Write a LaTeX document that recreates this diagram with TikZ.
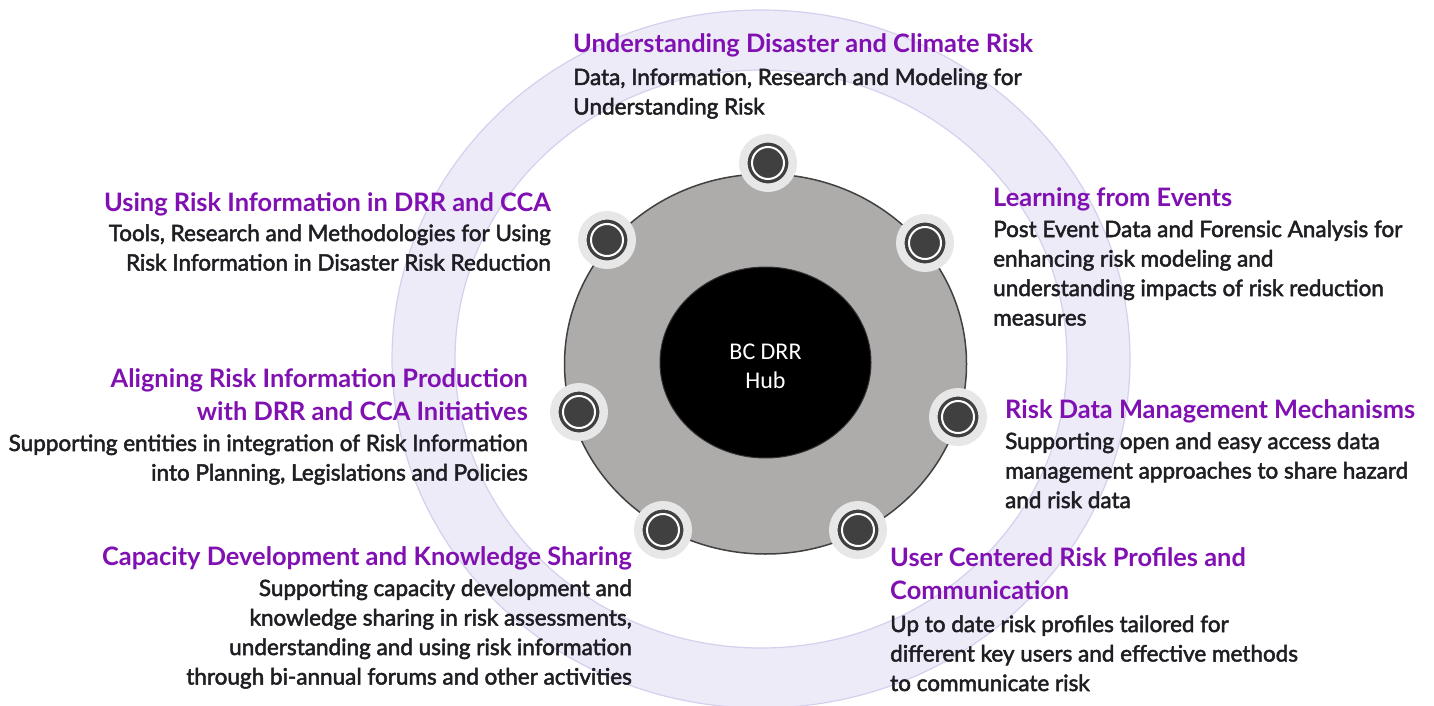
\documentclass[tikz,border=0pt]{standalone}
\usepackage{fontspec}
\setmainfont{Lato}
\newfontfamily\bodyfont{Lato}[RawFeature={embolden=2.2}]
\newfontfamily\hubfont{Carlito}
\usetikzlibrary{positioning,shapes.geometric}

\definecolor{hubpurple}{RGB}{128,16,178}
\definecolor{ringlav}{RGB}{237,235,248}
\definecolor{ringedge}{RGB}{212,208,238}
\definecolor{discgray}{RGB}{174,171,171}
\definecolor{dotdark}{RGB}{64,64,64}
\definecolor{dotlight}{RGB}{231,231,231}
\definecolor{textdark}{RGB}{30,30,35}

\tikzset{
  ttl/.style={font=\bfseries\fontsize{25.4}{32.5}\selectfont, text=hubpurple, inner sep=0pt},
  body/.style={font=\bodyfont\fontsize{22.5}{29.5}\selectfont, text=textdark, inner sep=0pt},
  dotout/.style={circle, fill=dotdark, draw=dotlight, line width=8.5pt, minimum size=49.5pt, inner sep=0pt},
}

\begin{document}
\begin{tikzpicture}[x=1pt,y=-1pt]
    \fill[white] (0,0) rectangle (1434,706);
    \useasboundingbox (0,0) rectangle (1434,706);

    % outer ring
    \fill[ringlav, even odd rule] (761,359) ellipse [x radius=369, y radius=349]
        (761,359) ellipse [x radius=306, y radius=289];
    \draw[ringedge, line width=1.2pt] (761,359) ellipse [x radius=369, y radius=349];
    \draw[ringedge, line width=1.2pt] (761,359) ellipse [x radius=306, y radius=289];

    % disc and hub
    \node[ellipse, fill=discgray, draw=dotdark, line width=1.5pt, minimum width=402pt, minimum height=380pt, inner sep=0pt] (disc) at (765.5,364) {};
    \node[ellipse, fill=black, draw=black!80, line width=1pt, minimum width=211pt, minimum height=191pt, inner sep=0pt] (hub) at (765.5,362.5) {};
    \node[align=center, text=white, font=\hubfont\fontsize{24}{29}\selectfont] (hubtxt) at (765.5,366) {BC DRR\\Hub};

    % markers
    \foreach \p [count=\i] in {(768,163),(925,243),(958,417),(858,530),(663,530),(579,412),(607,240)}{
        \node[dotout] (m\i) at \p {};
        \draw[white, line width=2pt] (m\i.center) circle (16);
    }

    % topics (base of a multi-line node = its last line)
    \node[ttl, anchor=base west] (t1) at (573,53) {Understanding Disaster and Climate Risk};
    \node[body, anchor=base west, align=left, yshift=-61.5pt] (d1) at (t1.base west)
        {Data, Information, Research and Modeling for\\Understanding Risk};

    \node[ttl, anchor=base west] (t2) at (993,206) {Learning from Events};
    \node[body, anchor=base west, align=left, yshift=-119.5pt] (d2) at (t2.base west)
        {Post Event Data and Forensic Analysis for\\enhancing risk modeling and\\understanding impacts of risk reduction\\measures};

    \node[ttl, anchor=base west] (t3) at (1005,418) {Risk Data Management Mechanisms};
    \node[body, anchor=base west, align=left, yshift=-90pt] (d3) at (t3.base west)
        {Supporting open and easy access data\\management approaches to share hazard\\and risk data};

    \node[ttl, anchor=base west, align=left] (t4) at (890,599) {User Centered Risk Profiles and\\Communication};
    \node[body, anchor=base west, align=left, yshift=-92pt] (d4) at (t4.base west)
        {Up to date risk profiles tailored for\\different key users and effective methods\\to communicate risk};

    \node[ttl, anchor=base east] (t5) at (632,565) {Capacity Development and Knowledge Sharing};
    \node[body, anchor=base east, align=right, yshift=-119.5pt] (d5) at (t5.base east)
        {Supporting capacity development and\\knowledge sharing in risk assessments,\\understanding and using risk information\\through bi-annual forums and other activities};

    \node[ttl, anchor=base east, align=right] (t6) at (528,420) {Aligning Risk Information Production\\with DRR and CCA Initiatives};
    \node[body, anchor=base east, align=right, yshift=-60.5pt] (d6) at (t6.base east)
        {Supporting entities in integration of Risk Information\\into Planning, Legislations and Policies};

    \node[ttl, anchor=base east] (t7) at (551,211) {Using Risk Information in DRR and CCA};
    \node[body, anchor=base east, align=right, yshift=-59.5pt] (d7) at (t7.base east)
        {Tools, Research and Methodologies for Using\\Risk Information in Disaster Risk Reduction};
\end{tikzpicture}
\end{document}
